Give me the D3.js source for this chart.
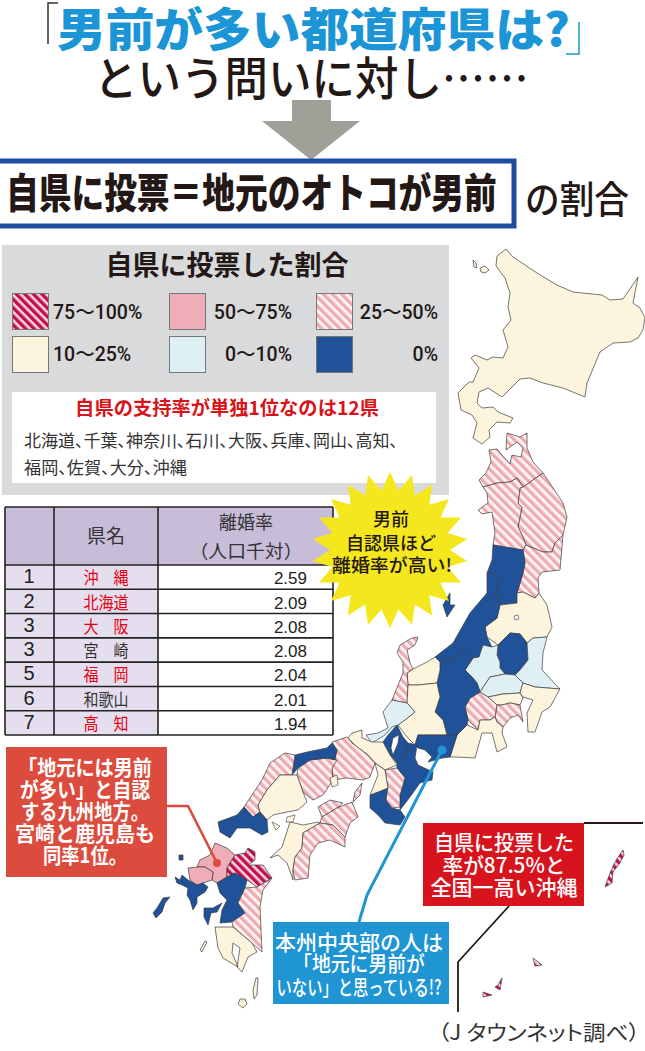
<!DOCTYPE html>
<html><head><meta charset="utf-8">
<script src="https://cdn.jsdelivr.net/npm/d3@7"></script>
<style>html,body{margin:0;padding:0;background:#fff}svg{display:block}
text{font-family:"Liberation Sans","Noto Sans CJK JP",sans-serif}</style></head><body>
<div id="c"></div>
<script>
// ---------- data ----------
const legendLabels=["75〜100%","50〜75%","25〜50%","10〜25%","0〜10%","0%"];
const rankLabels=["1","2","3","3","5","6","7"];
const tableNames=["沖　縄","北海道","大　阪","宮　崎","福　岡","和歌山","高　知"];
const tableNameRed=[true,true,true,false,true,false,true];
const divorceRates=[2.59,2.09,2.08,2.08,2.04,2.01,1.94];
const singleTopLine1="北海道、千葉、神奈川、石川、大阪、兵庫、岡山、高知、";
const singleTopLine2="福岡、佐賀、大分、沖縄";
// band: 0=75-100 1=50-75 2=25-50 3=10-25 4=0-10 5=0
const prefNames=["北海道","青森","岩手","秋田","宮城","山形","福島","新潟","栃木","群馬","茨城","埼玉","千葉","東京","神奈川","山梨","静岡","長野","富山","石川","岐阜","福井","愛知","滋賀","三重","和歌山","奈良","京都","大阪","兵庫","岡山","鳥取","島根","広島","山口","香川","徳島","愛媛","高知","淡路","福岡","佐賀","大分","熊本","宮崎","鹿児島","長崎","島原","沖縄","宮古","石垣","西表","佐渡","利尻","礼文","種子島","屋久島","五島","壱岐","甑島"];
const prefBands=[3,2,2,2,2,5,3,5,5,4,4,4,3,3,2,2,3,5,3,2,3,4,5,5,5,5,2,3,3,2,2,5,2,3,5,2,2,3,2,2,1,1,0,5,2,3,5,5,0,0,0,0,5,3,3,3,3,5,5,3];
const prefOutlines=[
[[506,249],[497,256],[496,266],[505,278],[510,293],[508,307],[511,320],[503,330],[508,347],[503,358],[493,357],[487,360],[475,355],[471,358],[479,368],[473,382],[469,382],[458,393],[461,410],[472,415],[477,423],[473,438],[482,444],[490,437],[489,430],[497,422],[510,423],[513,418],[498,412],[493,407],[482,408],[477,403],[479,392],[488,388],[502,397],[520,379],[530,378],[543,383],[563,388],[585,397],[587,383],[600,352],[613,343],[630,342],[638,338],[643,330],[645,318],[640,308],[633,303],[638,277],[623,299],[610,300],[602,295],[573,292],[557,285],[537,273],[513,257]],
[[507,433],[506,450],[517,442],[523,448],[521,457],[512,455],[510,464],[502,455],[497,449],[489,450],[491,462],[486,473],[479,480],[483,487],[497,483],[510,482],[517,478],[523,487],[543,473],[533,462],[527,448],[527,433],[520,437]],
[[523,487],[543,473],[553,488],[563,503],[567,517],[563,535],[555,543],[552,552],[543,552],[526,545],[523,537],[518,527],[522,507],[518,503],[520,488]],
[[483,487],[497,483],[510,482],[517,478],[523,487],[520,488],[518,503],[522,507],[518,527],[523,537],[526,545],[523,550],[493,545],[495,533],[492,512],[482,514],[478,510],[488,503],[487,493]],
[[523,550],[526,545],[543,552],[552,552],[555,543],[563,535],[560,570],[542,572],[538,578],[539,593],[535,598],[523,592],[517,593],[523,573],[525,563]],
[[493,545],[523,550],[525,563],[523,573],[517,593],[517,603],[500,605],[495,595],[500,580],[495,575],[487,573],[492,560]],
[[517,593],[523,592],[535,598],[539,593],[547,605],[552,627],[547,637],[533,638],[527,643],[520,634],[510,633],[498,645],[487,637],[485,627],[497,618],[500,605],[517,603]],
[[487,573],[495,575],[500,580],[495,595],[500,605],[497,618],[485,627],[487,637],[492,647],[483,645],[479,657],[473,658],[463,648],[457,657],[440,662],[435,657],[453,643],[470,613],[487,593]],
[[510,633],[520,634],[527,643],[528,660],[520,670],[515,675],[505,674],[500,668],[500,662],[497,655],[498,645]],
[[483,645],[492,647],[498,645],[497,655],[500,662],[500,668],[505,674],[490,677],[480,692],[477,683],[472,677],[465,670],[473,658],[479,657]],
[[527,643],[533,638],[547,637],[543,653],[542,670],[560,689],[535,687],[523,683],[515,675],[520,670],[528,660]],
[[490,677],[505,674],[515,675],[523,683],[520,693],[503,694],[488,697],[480,692]],
[[523,683],[535,687],[560,689],[550,707],[542,712],[535,732],[528,732],[527,713],[533,700],[523,697],[520,693]],
[[488,697],[503,694],[520,693],[523,698],[520,705],[510,703],[502,705],[497,705]],
[[497,705],[502,705],[510,703],[520,705],[523,722],[518,715],[510,718],[503,727],[497,722],[495,717]],
[[470,698],[480,692],[488,697],[497,705],[495,717],[490,720],[480,720],[478,730],[468,720],[465,707]],
[[478,730],[480,720],[490,720],[495,717],[497,722],[503,727],[502,733],[507,747],[497,752],[492,733],[482,733],[475,758],[457,757],[450,757],[457,735],[467,725]],
[[440,662],[457,657],[463,648],[473,658],[465,670],[472,677],[477,683],[480,692],[470,698],[465,707],[468,720],[467,725],[457,735],[447,735],[443,720],[435,712],[440,697],[437,683],[440,670]],
[[435,657],[440,662],[440,670],[437,683],[418,685],[408,685],[407,673],[413,669],[427,662]],
[[418,637],[412,638],[400,645],[397,653],[403,662],[403,673],[392,700],[407,703],[408,685],[407,673],[413,669],[410,663],[407,650],[415,645]],
[[408,685],[418,685],[437,683],[440,697],[435,712],[443,720],[447,735],[418,735],[415,745],[407,737],[398,725],[405,720],[415,712],[407,703]],
[[392,700],[407,703],[415,712],[405,720],[398,725],[392,727],[385,735],[372,743],[366,735],[378,733],[388,728],[383,712]],
[[418,735],[447,735],[457,735],[450,757],[442,758],[428,762],[432,757],[425,750],[418,748],[415,745]],
[[397,725],[403,737],[408,743],[405,757],[397,763],[390,755],[383,742],[388,735]],
[[408,743],[417,745],[415,758],[418,765],[433,772],[432,780],[420,783],[410,797],[400,810],[400,807],[400,795],[405,778],[397,768],[397,763],[405,757]],
[[388,788],[370,795],[370,808],[378,815],[385,823],[400,825],[405,817],[400,810],[392,808],[386,800]],
[[385,770],[397,768],[405,778],[400,795],[400,807],[392,808],[386,800],[388,788]],
[[352,733],[362,730],[362,738],[372,742],[383,742],[390,755],[397,765],[385,770],[375,763],[368,755],[357,747],[348,738]],
[[375,763],[385,770],[388,788],[378,792],[370,795],[378,775]],
[[332,742],[347,737],[352,743],[368,755],[375,763],[370,777],[363,780],[347,778],[333,780],[332,768],[337,750]],
[[298,768],[310,760],[327,758],[337,760],[332,768],[333,780],[323,795],[313,800],[303,792],[297,775]],
[[295,755],[307,752],[327,748],[332,743],[337,750],[335,760],[327,758],[310,760],[298,768],[292,775]],
[[270,763],[285,753],[295,755],[292,775],[280,775],[267,790],[258,805],[260,812],[253,817],[244,807],[252,795],[262,780]],
[[280,775],[297,775],[303,792],[307,802],[298,810],[287,812],[273,815],[267,820],[260,812],[258,805],[267,790]],
[[244,807],[253,817],[260,812],[267,820],[268,832],[262,835],[250,828],[237,828],[230,838],[220,832],[218,822],[237,815]],
[[318,807],[330,800],[343,803],[337,808],[322,817]],
[[322,817],[337,808],[352,802],[358,817],[350,823],[345,837],[333,825],[320,823]],
[[270,858],[282,847],[290,822],[303,825],[318,822],[320,823],[303,833],[302,848],[295,857],[293,870],[293,880],[287,863],[278,855]],
[[303,833],[320,823],[333,825],[345,837],[345,847],[330,840],[318,843],[310,855],[308,878],[295,880],[293,870],[295,857],[302,848]],
[[362,783],[360,795],[353,802],[355,792]],
[[215,843],[227,848],[235,855],[227,868],[227,877],[217,883],[212,880],[213,872],[205,867],[197,867],[200,860],[210,855]],
[[188,868],[197,867],[205,867],[213,872],[212,880],[203,883],[197,885],[190,880]],
[[235,855],[245,853],[248,848],[255,852],[255,860],[248,865],[263,865],[272,878],[257,887],[247,880],[235,873],[227,877],[227,868]],
[[217,883],[227,877],[235,873],[247,880],[245,888],[238,903],[245,913],[232,922],[220,923],[222,910],[227,900],[220,893]],
[[257,887],[272,878],[263,890],[260,907],[262,952],[252,943],[233,927],[232,922],[245,913],[238,903],[245,888]],
[[215,927],[233,927],[252,943],[257,952],[248,957],[242,972],[237,967],[240,948],[233,943],[232,953],[238,967],[223,958],[218,948]],
[[175,877],[180,880],[182,875],[188,880],[197,885],[203,883],[208,887],[205,892],[197,897],[197,903],[193,910],[190,900],[187,895],[188,888],[182,885],[177,883]],
[[204,908],[213,908],[222,903],[217,912],[211,913],[208,925],[204,917]],
[[623,850],[618,857],[615,862],[610,873],[605,887],[612,883],[613,872],[620,863],[624,855]],
[[533,958],[542,965],[535,966]],
[[502,978],[500,990],[495,987],[498,985]],
[[483,992],[492,995],[483,997]],
[[450,593],[443,605],[447,617],[455,605],[450,605]],
[[480,268],[485,266],[489,270],[485,273],[481,272]],
[[473,260],[476,263],[477,268],[474,267]],
[[256,978],[258,978],[257,995],[254,999],[253,990]],
[[240,999],[245,999],[247,1004],[243,1008],[238,1004]],
[[153,913],[157,908],[163,898],[170,897],[165,903],[162,912],[156,918]],
[[179,855],[183,855],[183,860],[179,860]],
[[200,950],[205,941],[207,942],[202,952]]
];
const lakes=[[[393,738],[399,735],[398,743],[393,755],[391,748]],[[514,616],[518,615],[519,619],[515,620]]];
const seaIslets=[[[330,778],[337,775],[338,785],[332,787]],[[272,822],[280,826],[276,830]],[[287,817],[295,815],[293,822],[286,822]]];

// ---------- drawing ----------
const W=645,H=1051;
const svg=d3.select("#c").append("svg").attr("width",W).attr("height",H);
const defs=svg.append("defs");
function hatch(id,bg,fg,size,bar){
  const p=defs.append("pattern").attr("id",id).attr("patternUnits","userSpaceOnUse")
    .attr("width",size).attr("height",size).attr("patternTransform","rotate(-45)");
  p.append("rect").attr("width",size).attr("height",size).attr("fill",bg);
  p.append("rect").attr("width",bar).attr("height",size).attr("fill",fg);
}
hatch("h0","#f7d6dc","#c30d52",6,3.4);
hatch("h2","#fdf3ee","#eea9b4",6.4,3.2);
const bandFill=["url(#h0)","#efadb9","url(#h2)","#fcf4dc","#dff0f5","#20529a"];

function T(x,y,s,o={}){ // y = visual centre; optional len squeezes the line horizontally
  const size=o.size||16, by=y+size*0.36;
  const e=svg.append("text").attr("transform",`translate(${x},${by})`).text(s)
    .attr("font-size",size).attr("font-weight",o.weight||400).attr("fill",o.fill||"#231815")
    .attr("text-anchor",o.anchor||"middle");
  if(o.family)e.style("font-family",o.family);
  if(o.palt)e.style("font-feature-settings",'"palt"');
  if(o.len){const n=e.node().getComputedTextLength();
    e.attr("transform",`translate(${x},${by}) scale(${o.len/n},1)`);}
  return e;
}
const JP='"Noto Sans CJK JP",sans-serif';
const NUM='Roboto,"Noto Sans CJK JP",sans-serif';

// headline
T(57,29,"男前が多い都道府県は?",{anchor:"start",size:46,weight:900,fill:"#1b95d6",family:JP,len:513});
const lb=d3.line();
svg.append("path").attr("d",lb([[58,3],[48,3],[48,44]])).attr("fill","none").attr("stroke","#333").attr("stroke-width",1.5);
svg.append("path").attr("d",lb([[566,54],[579,54],[579,22]])).attr("fill","none").attr("stroke","#1b95d6").attr("stroke-width",1.5);
T(94,78,"という問いに対し……",{anchor:"start",size:46,weight:500,family:JP,len:435});
svg.append("path").attr("d",lb([[292,100],[331,100],[331,121],[360,121],[311,160],[262,121],[292,121]])+"Z").attr("fill","#a0a098");
svg.append("rect").attr("x",-4).attr("y",161).attr("width",518).attr("height",65).attr("fill","#fff").attr("stroke","#1f4ea1").attr("stroke-width",5);
T(6,193,"自県に投票＝地元のオトコが男前",{anchor:"start",size:41,weight:900,family:JP,len:491});
T(525,199,"の割合",{anchor:"start",size:38,weight:500,family:JP,len:104});

// map
const proj=d3.geoIdentity();
const geo=d3.geoPath(proj);
const features=prefOutlines.map((r,i)=>({type:"Feature",properties:{name:prefNames[i],band:prefBands[i]},
  geometry:{type:"Polygon",coordinates:[[...r,r[0]]]}}));
const mapG=svg.append("g");
mapG.selectAll("path.p").data(features).join("path").attr("class","p")
  .attr("d",geo).attr("fill",d=>bandFill[d.properties.band]).attr("stroke","#3c3c3c").attr("stroke-width",.7).attr("stroke-linejoin","round");
const poly=r=>({type:"Polygon",coordinates:[[...r,r[0]]]});
mapG.selectAll("path.l").data(lakes).join("path").attr("d",d=>geo(poly(d))).attr("fill","#fff").attr("stroke","#3c3c3c").attr("stroke-width",.6);
mapG.selectAll("path.s").data(seaIslets).join("path").attr("d",d=>geo(poly(d))).attr("fill","#fcf4dc").attr("stroke","#3c3c3c").attr("stroke-width",.6);

// legend panel
svg.append("rect").attr("x",2).attr("y",245).attr("width",447).attr("height",250).attr("fill","#d9dadb");
T(227,265,"自県に投票した割合",{size:27,weight:700,family:JP,len:243});
const legX=[12,169,316], legY=[293,336];
const legEnd=[[53,"start"],[292,"end"],[438,"end"]];
legendLabels.forEach((s,i)=>{
  const c=i%3,r=Math.floor(i/3);
  svg.append("rect").attr("x",legX[c]+.5).attr("y",legY[r]+.5).attr("width",36).attr("height",36)
    .attr("fill",bandFill[i]).attr("stroke","#777").attr("stroke-width",1);
  T(legEnd[c][0],legY[r]+(r?18:19),s,{anchor:legEnd[c][1],size:19.5,weight:500,family:NUM});
});
svg.append("rect").attr("x",12).attr("y",392).attr("width",424).attr("height",91).attr("fill","#fff");
T(227,408,"自県の支持率が単独1位なのは12県",{size:19,weight:700,fill:"#d7141a",len:304,family:JP});
T(24,441,singleTopLine1,{anchor:"start",size:17,fill:"#333",family:JP,len:374,palt:true});
T(24,468,singleTopLine2,{anchor:"start",size:17,fill:"#333",family:JP,len:163,palt:true});

// table
const colX=[5,54,158,333];
const rowY=d3.scaleBand().domain(d3.range(rankLabels.length)).range([565,735]);
const tg=svg.append("g");
tg.append("rect").attr("x",colX[0]).attr("y",507).attr("width",colX[3]-colX[0]).attr("height",58).attr("fill","#c8bdd9");
tg.append("rect").attr("x",colX[0]).attr("y",565).attr("width",colX[2]-colX[0]).attr("height",170).attr("fill","#e4deee");
tg.append("rect").attr("x",colX[2]).attr("y",565).attr("width",colX[3]-colX[2]).attr("height",170).attr("fill","#fff");
[507,...rowY.domain().map(i=>rowY(i)),735].forEach(y=>tg.append("line").attr("x1",colX[0]).attr("x2",colX[3]).attr("y1",y).attr("y2",y).attr("stroke","#222").attr("stroke-width",1.6));
colX.forEach(x=>tg.append("line").attr("x1",x).attr("x2",x).attr("y1",507).attr("y2",735).attr("stroke","#222").attr("stroke-width",1.6));
T(106,536,"県名",{size:19,fill:"#333",family:JP});
T(246,523,"離婚率",{size:18,fill:"#333",family:JP});
T(246,552,"（人口千対）",{size:18,fill:"#333",family:JP,len:113});
rankLabels.forEach((s,i)=>{
  const y=rowY(i)+rowY.bandwidth()/2;
  T(29,y-1,s,{size:20,fill:"#222"});
  T(106,y+1,tableNames[i],{size:17,fill:tableNameRed[i]?"#e60012":"#333",family:JP,len:45});
  T(307,y+1,divorceRates[i].toFixed(2),{anchor:"end",size:17,fill:"#222"});
});

// burst
const spikes=d3.range(44).map(i=>[i*Math.PI/22,i%2?60:78]);
svg.append("path").attr("transform","translate(390,550)")
  .attr("d",d3.lineRadial().angle(d=>d[0]).radius(d=>d[1]).curve(d3.curveLinearClosed)(spikes)).attr("fill","#f5e71e");
T(391,520,"男前",{size:18,weight:500,family:JP});
T(391,544,"自認県ほど",{size:18,weight:500,family:JP,len:90});
T(392,566,"離婚率が高い!",{size:18,weight:500,family:JP,len:120});

// callouts
svg.append("path").attr("d",lb([[167,806],[188,806],[217,863]])).attr("fill","none").attr("stroke","#dc4c3e").attr("stroke-width",2.6);
svg.append("circle").attr("cx",217).attr("cy",863).attr("r",4).attr("fill","#dc4c3e");
svg.append("rect").attr("x",6).attr("y",747).attr("width",161).attr("height",130).attr("fill","#dc4c3e");
[["「地元には男前",767,134],["が多い」と自認",789,130],["する九州地方。",811,128],["宮崎と鹿児島も",833,140],["同率1位。",855,84]].forEach(d=>
  T(85,d[1],d[0],{size:21,weight:700,fill:"#fff",family:JP,len:d[2]}));

svg.append("path").attr("d",lb([[442,750],[367,895],[359,922]])).attr("fill","none").attr("stroke","#1f95d3").attr("stroke-width",3);
svg.append("circle").attr("cx",442).attr("cy",750).attr("r",4.5).attr("fill","#1f95d3");
svg.append("rect").attr("x",273).attr("y",922).attr("width",176).attr("height",82).attr("fill","#1f95d3");
[["本州中央部の人は",942,168],["「地元に男前が",963,132],["いない」と思っている!?",987,165]].forEach(d=>
  T(359,d[1],d[0],{size:21,weight:500,fill:"#fff",family:JP,len:d[2]}));

svg.append("path").attr("d",lb([[584,823],[643,823]])).attr("fill","none").attr("stroke","#231815").attr("stroke-width",1.8);
svg.append("path").attr("d",lb([[509,906],[458,962],[458,1012]])).attr("fill","none").attr("stroke","#231815").attr("stroke-width",1.8);
svg.append("rect").attr("x",423).attr("y",823).attr("width",161).attr("height",83).attr("fill","#d7141e");
[["自県に投票した",842,140],["率が87.5%と",865,123],["全国一高い沖縄",887,147]].forEach(d=>
  T(504,d[1],d[0],{size:21,weight:500,fill:"#fff",family:JP,len:d[2]}));
T(438,1032,"（J タウンネット調べ）",{anchor:"start",size:21,fill:"#333",family:JP,len:202,palt:true});
</script></body></html>
